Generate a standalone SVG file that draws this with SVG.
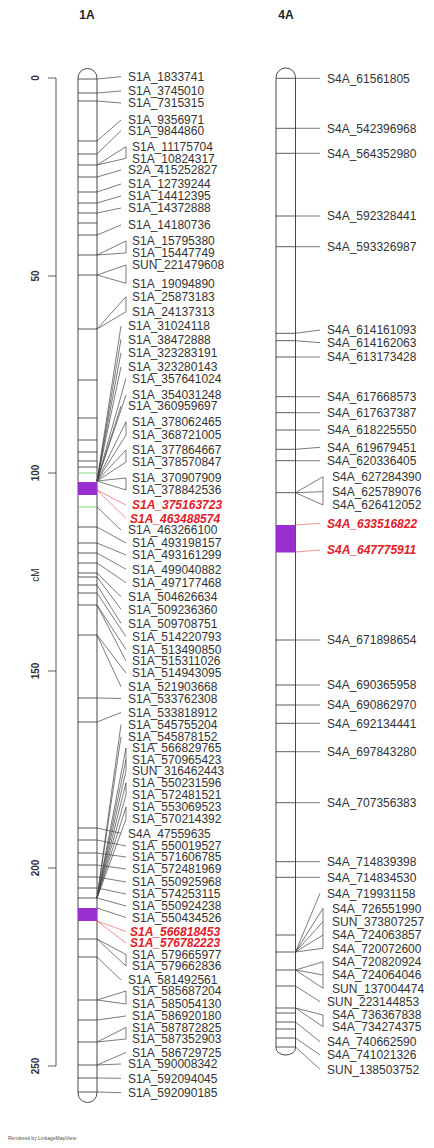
<svg xmlns="http://www.w3.org/2000/svg" width="434" height="1148" viewBox="0 0 434 1148">
<style>
text{font-family:"Liberation Sans",Arial,sans-serif}
.l{font-size:12px;fill:#333}
.r{font-size:12px;fill:#e0202a;font-weight:bold;font-style:italic}
.t{font-size:12px;font-weight:bold;fill:#222}
.ax{font-size:10px;font-weight:bold;fill:#333}
.chr{fill:#fff;stroke:#333;stroke-width:0.9}
.mk{stroke:#333;stroke-width:0.8;fill:none}
.cn{stroke:#444;stroke-width:0.7;fill:none}
.cr{stroke:#e0202a;stroke-width:0.7;fill:none;opacity:0.7}
.gr{stroke:#66cc66;stroke-width:0.8}
.pu{fill:#9a2fd0}
</style>
<rect width="434" height="1148" fill="#fff"/>
<g id="axis">
<path class="mk" d="M56 78V1066M48 78H56M48 276H56M48 473H56M48 671H56M48 868H56M48 1066H56"/>
<text class="ax" text-anchor="middle" transform="translate(39 78) rotate(-90)">0</text>
<text class="ax" text-anchor="middle" transform="translate(39 276) rotate(-90)">50</text>
<text class="ax" text-anchor="middle" transform="translate(39 473) rotate(-90)">100</text>
<text class="ax" text-anchor="middle" transform="translate(39 671) rotate(-90)">150</text>
<text class="ax" text-anchor="middle" transform="translate(39 868) rotate(-90)">200</text>
<text class="ax" text-anchor="middle" transform="translate(39 1066) rotate(-90)">250</text>
<text class="ax" text-anchor="middle" style="font-weight:normal" transform="translate(39 575) rotate(-90)">cM</text>
</g>
<g id="chr1A">
<text class="t" x="87" y="19" text-anchor="middle">1A</text>
<path class="chr" d="M78 1093V78A9.5 9.5 0 0 1 97 78V1093A9.5 9.5 0 0 1 78 1093Z"/>
<rect class="pu" x="78" y="482" width="19" height="13"/>
<rect class="pu" x="78" y="908" width="19" height="13"/>
<path class="mk" d="M78 79H97M78 93H97M78 101H97M78 141H97M78 154H97M78 165H97M78 177H97M78 192H97M78 203H97M78 213H97M78 223H97M78 235H97M78 255H97M78 275H97M78 329H97M78 380H97M78 418H97M78 440H97M78 452H97M78 461H97M78 467H97M78 527H97M78 543H97M78 553H97M78 563H97M78 573H97M78 577H97M78 585H97M78 593H97M78 605H97M78 635H97M78 698H97M78 722H97M78 828H97M78 840H97M78 853H97M78 865H97M78 877H97M78 888H97M78 898H97M78 939H97M78 957H97M78 1000H97M78 1020H97M78 1042H97M78 1065H97M78 1078H97M78 1092H97"/>
<path class="gr" d="M78 473H97M78 507H97"/>
</g>
<g id="chr4A">
<text class="t" x="286" y="19" text-anchor="middle">4A</text>
<path class="chr" d="M276 1048V77.5A9.75 9.5 0 0 1 295.5 77.5V1048A9.75 7 0 0 1 276 1048Z"/>
<rect class="pu" x="276" y="525" width="19.5" height="27.5"/>
<path class="mk" d="M276 78.3H295.5M276 128.3H295.5M276 153.3H295.5M276 216H295.5M276 246.7H295.5M276 333.3H295.5M276 340.7H295.5M276 357H295.5M276 396.7H295.5M276 412.7H295.5M276 430H295.5M276 449.3H295.5M276 460.7H295.5M276 492.7H295.5M276 640H295.5M276 685H295.5M276 705H295.5M276 723.3H295.5M276 751.7H295.5M276 802.7H295.5M276 861.7H295.5M276 877.3H295.5M276 935H295.5M276 952H295.5M276 970H295.5M276 986H295.5M276 1008H295.5M276 1013H295.5M276 1022H295.5M276 1029H295.5M276 1038H295.5M276 1047H295.5"/>
</g>
<g id="connectors">
<path class="cn" d="M97 79L121 76.7M97 93L121 91M97 101L121 103M97 141L121 120M97 154L121 130.7M97 165L126 146.7M97 165L126 158.3M126 146.7V158.3M97 177L121 170M97 192L121 184M97 203L121 196M97 213L121 208M97 235L121 225M97 255L126 241M97 255L126 253M126 241V253M97 275L126 265M97 275L126 283.3M126 265V283.3M97 329L126 296.7M97 329L126 311.7M126 296.7V311.7M97 481L121 326M97 481L121 339.3M97 481L121 352.7M97 481L121 366.7M97 481L126 378.3M97 481L126 395M97 481L121 406M97 481L126 421.7M97 481L126 435M126 421.7V435M97 481L126 450M97 481L126 462M126 450V462M97 481L126 478M97 481L126 490M126 478V490M97 507L121 530M97 527L126 543M97 543L126 555M97 553L126 569.3M97 563L126 582.7M97 573L121 596.7M97 577L121 609.3M97 585L121 623.3M97 593L126 636.7M97 605L126 649.5M97 605L126 661M97 635L126 673M97 635L121 686.7M97 698L121 698.5M97 722L121 712.5M97 898L121 724.5M97 898L121 736.7M97 898L126 748M97 898L126 759.5M97 898L126 771M126 748V771M97 898L126 783M97 898L126 795M126 783V795M97 898L126 807M97 898L126 819M126 807V819M97 828L121 833.3M97 840L126 846M97 853L126 857M97 865L126 869M97 877L126 882M97 888L126 894M97 898L126 906M97 908L126 917.5M97 939L126 954.5M97 939L126 966M126 954.5V966M97 957L121 980M97 1000L126 991M97 1000L126 1004M126 991V1004M97 1020L126 1016M97 1042L126 1027.5M97 1042L126 1039M126 1027.5V1039M97 1065L126 1052.5M97 1065L121 1064M97 1078L121 1078.3M97 1092L121 1092.7"/>
<path class="cr" d="M97 490L126 505M97 490L126 518.3M97 921L126 931.5M97 921L126 943"/>
<path class="cn" d="M295.5 78.3H320M295.5 128.3H320M295.5 153.3H320M295.5 216H320M295.5 246.7H320M295.5 333.3L320 330M295.5 340.7L320 342.7M295.5 357H320M295.5 396.7H320M295.5 412.7H320M295.5 430H320M295.5 449.3L320 447.3M295.5 460.7H320M295.5 492.7L323 476.7M295.5 492.7L323 491.7M295.5 492.7L323 505M323 476.7V505M295.5 640H320M295.5 685H320M295.5 705H320M295.5 723.3H320M295.5 751.7H320M295.5 802.7H320M295.5 861.7H320M295.5 877.3H320M295.5 952L320 893.3M295.5 952L323 908.3M295.5 952L323 921.7M295.5 952L323 935M295.5 952L323 948.3M323 908.3V948.3M295.5 970L323 961.7M295.5 970L323 975M295.5 970L323 988.3M323 961.7V988.3M295.5 986L320 1001.7M295.5 1008L323 1015M295.5 1008L323 1026.7M323 1015V1026.7M295.5 1022L320 1041.7M295.5 1038L320 1055M295.5 1047L320 1069.3"/>
<path class="cr" d="M295.5 525L320 523.3M295.5 552L320 550"/>
</g>
<g id="labels1A">
<text class="l" x="128" y="81">S1A_1833741</text>
<text class="l" x="128" y="95">S1A_3745010</text>
<text class="l" x="128" y="107">S1A_7315315</text>
<text class="l" x="128" y="124">S1A_9356971</text>
<text class="l" x="128" y="135">S1A_9844860</text>
<text class="l" x="132" y="151">S1A_11175704</text>
<text class="l" x="132" y="162.5">S1A_10824317</text>
<text class="l" x="128" y="174">S2A_415252827</text>
<text class="l" x="128" y="188">S1A_12739244</text>
<text class="l" x="128" y="200">S1A_14412395</text>
<text class="l" x="128" y="212">S1A_14372888</text>
<text class="l" x="128" y="229">S1A_14180736</text>
<text class="l" x="132" y="245">S1A_15795380</text>
<text class="l" x="132" y="257">S1A_15447749</text>
<text class="l" x="132" y="269">SUN_221479608</text>
<text class="l" x="132" y="287.5">S1A_19094890</text>
<text class="l" x="132" y="301">S1A_25873183</text>
<text class="l" x="132" y="316">S1A_24137313</text>
<text class="l" x="128" y="330">S1A_31024118</text>
<text class="l" x="128" y="343.5">S1A_38472888</text>
<text class="l" x="128" y="357">S1A_323283191</text>
<text class="l" x="128" y="371">S1A_323280143</text>
<text class="l" x="132" y="382.5">S1A_357641024</text>
<text class="l" x="132" y="399">S1A_354031248</text>
<text class="l" x="128" y="410">S1A_360959697</text>
<text class="l" x="132" y="426">S1A_378062465</text>
<text class="l" x="132" y="439">S1A_368721005</text>
<text class="l" x="132" y="454">S1A_377864667</text>
<text class="l" x="132" y="466">S1A_378570847</text>
<text class="l" x="132" y="482">S1A_370907909</text>
<text class="l" x="132" y="494">S1A_378842536</text>
<text class="r" x="132" y="509">S1A_375163723</text>
<text class="r" x="130" y="522.5">S1A_463488574</text>
<text class="l" x="128" y="534">S1A_463266100</text>
<text class="l" x="132" y="547">S1A_493198157</text>
<text class="l" x="132" y="559">S1A_493161299</text>
<text class="l" x="132" y="573.5">S1A_499040882</text>
<text class="l" x="132" y="587">S1A_497177468</text>
<text class="l" x="128" y="601">S1A_504626634</text>
<text class="l" x="128" y="613.5">S1A_509236360</text>
<text class="l" x="128" y="627.5">S1A_509708751</text>
<text class="l" x="132" y="641">S1A_514220793</text>
<text class="l" x="132" y="653.5">S1A_513490850</text>
<text class="l" x="132" y="665">S1A_515311026</text>
<text class="l" x="132" y="677">S1A_514943095</text>
<text class="l" x="128" y="691">S1A_521903668</text>
<text class="l" x="128" y="702.5">S1A_533762308</text>
<text class="l" x="128" y="716.5">S1A_533818912</text>
<text class="l" x="128" y="728.5">S1A_545755204</text>
<text class="l" x="128" y="741">S1A_545878152</text>
<text class="l" x="132" y="752">S1A_566829765</text>
<text class="l" x="132" y="763.5">S1A_570965423</text>
<text class="l" x="132" y="775">SUN_316462443</text>
<text class="l" x="132" y="787">S1A_550231596</text>
<text class="l" x="132" y="799">S1A_572481521</text>
<text class="l" x="132" y="811">S1A_553069523</text>
<text class="l" x="132" y="823">S1A_570214392</text>
<text class="l" x="128" y="837.5">S4A_47559635</text>
<text class="l" x="132" y="850">S1A_550019527</text>
<text class="l" x="132" y="861">S1A_571606785</text>
<text class="l" x="132" y="873">S1A_572481969</text>
<text class="l" x="132" y="886">S1A_550925968</text>
<text class="l" x="132" y="898">S1A_574253115</text>
<text class="l" x="132" y="910">S1A_550924238</text>
<text class="l" x="132" y="921.5">S1A_550434526</text>
<text class="r" x="130" y="935.5">S1A_566818453</text>
<text class="r" x="130" y="947">S1A_576782223</text>
<text class="l" x="132" y="958.5">S1A_579665977</text>
<text class="l" x="132" y="970">S1A_579662836</text>
<text class="l" x="128" y="984">S1A_581492561</text>
<text class="l" x="132" y="995">S1A_585687204</text>
<text class="l" x="132" y="1008">S1A_585054130</text>
<text class="l" x="132" y="1020">S1A_586920180</text>
<text class="l" x="132" y="1031.5">S1A_587872825</text>
<text class="l" x="132" y="1043">S1A_587352903</text>
<text class="l" x="132" y="1056.5">S1A_586729725</text>
<text class="l" x="128" y="1068">S1A_590008342</text>
<text class="l" x="128" y="1082.5">S1A_592094045</text>
<text class="l" x="128" y="1097">S1A_592090185</text>
</g>
<g id="labels4A">
<text class="l" x="327" y="82.5">S4A_61561805</text>
<text class="l" x="327" y="132.5">S4A_542396968</text>
<text class="l" x="327" y="157.5">S4A_564352980</text>
<text class="l" x="327" y="220">S4A_592328441</text>
<text class="l" x="327" y="251">S4A_593326987</text>
<text class="l" x="327" y="334">S4A_614161093</text>
<text class="l" x="327" y="347">S4A_614162063</text>
<text class="l" x="327" y="361">S4A_613173428</text>
<text class="l" x="327" y="401">S4A_617668573</text>
<text class="l" x="327" y="417">S4A_617637387</text>
<text class="l" x="327" y="434">S4A_618225550</text>
<text class="l" x="327" y="451.5">S4A_619679451</text>
<text class="l" x="327" y="465">S4A_620336405</text>
<text class="l" x="332" y="481">S4A_627284390</text>
<text class="l" x="332" y="496">S4A_625789076</text>
<text class="l" x="332" y="509">S4A_626412052</text>
<text class="r" x="327" y="527.5">S4A_633516822</text>
<text class="r" x="327" y="554">S4A_647775911</text>
<text class="l" x="327" y="644">S4A_671898654</text>
<text class="l" x="327" y="689">S4A_690365958</text>
<text class="l" x="327" y="709">S4A_690862970</text>
<text class="l" x="327" y="727.5">S4A_692134441</text>
<text class="l" x="327" y="756">S4A_697843280</text>
<text class="l" x="327" y="807">S4A_707356383</text>
<text class="l" x="327" y="866">S4A_714839398</text>
<text class="l" x="327" y="881.5">S4A_714834530</text>
<text class="l" x="327" y="897.5">S4A_719931158</text>
<text class="l" x="332" y="912.5">S4A_726551990</text>
<text class="l" x="332" y="926">SUN_373807257</text>
<text class="l" x="332" y="939">S4A_724063857</text>
<text class="l" x="332" y="952.5">S4A_720072600</text>
<text class="l" x="332" y="966">S4A_720820924</text>
<text class="l" x="332" y="979">S4A_724064046</text>
<text class="l" x="332" y="992.5">SUN_137004474</text>
<text class="l" x="327" y="1006">SUN_223144853</text>
<text class="l" x="332" y="1019">S4A_736367838</text>
<text class="l" x="332" y="1031">S4A_734274375</text>
<text class="l" x="327" y="1046">S4A_740662590</text>
<text class="l" x="327" y="1059">S4A_741021326</text>
<text class="l" x="327" y="1073.5">SUN_138503752</text>
</g>
<text x="8" y="1140" style="font-size:5px;fill:#555">Rendered by LinkageMapView</text>
</svg>
